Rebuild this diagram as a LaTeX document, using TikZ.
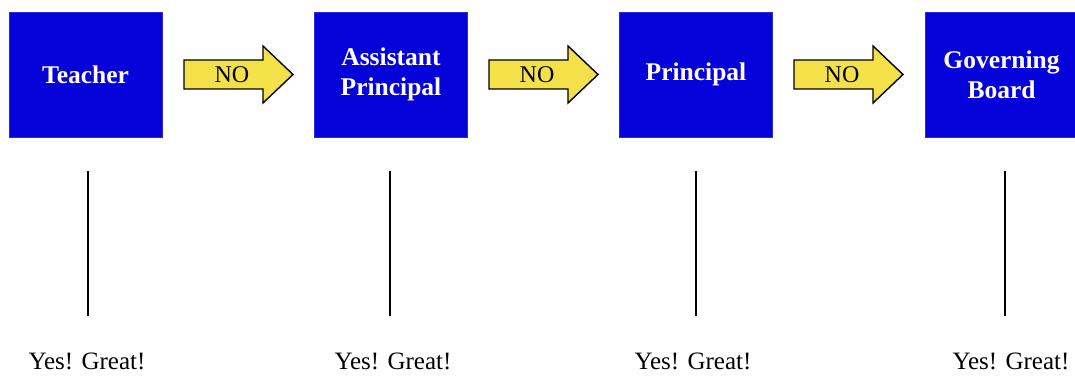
\documentclass[tikz,border=0pt]{standalone}
\usepackage{fontspec}
\setmainfont{Liberation Serif}
\usetikzlibrary{positioning}

\definecolor{boxblue}{RGB}{6,2,218}
\definecolor{noyellow}{RGB}{244,224,72}

\begin{document}
\begin{tikzpicture}[x=1pt,y=1pt,
	person/.style={rectangle,fill=boxblue,draw=boxblue!85!white,line width=0.6pt,
		minimum width=153pt,minimum height=125pt,inner sep=0pt,
		text=white,align=center,font=\fontsize{25.5}{30}\selectfont\bfseries},
	noarrow/.style={draw=black,fill=noyellow,line width=1.4pt,line join=miter},
	notext/.style={inner sep=0pt,font=\fontsize{24}{28}\selectfont},
	yesline/.style={draw=black,line width=1.3pt},
	yestext/.style={inner sep=0pt,anchor=base,text depth=0pt,
		font=\fontsize{25}{30}\selectfont},]
	\useasboundingbox (0,0) rectangle (1075,375);
	% the chain of people
	\node [person] (t) at (85.5,300.5) {Teacher};
	\node [person] (ap) at (391,300.5) {Assistant\\Principal};
	\node [person] (p) at (696,300.5) {Principal};
	\node [person] (gb) at (1001.5,300.5) {Governing\\Board};
	% NO arrows
	\coordinate (a1) at (184,300.5);
	\coordinate (a2) at (489,300.5);
	\coordinate (a3) at (794,300.5);
	\draw [noarrow,shift={(a1)}] (0,-14.5) -- (79,-14.5) -- (79,-28.5) -- (109,0)
		-- (79,28.5) -- (79,14.5) -- (0,14.5) -- cycle;
	\draw [noarrow,shift={(a2)}] (0,-14.5) -- (79,-14.5) -- (79,-28.5) -- (109,0)
		-- (79,28.5) -- (79,14.5) -- (0,14.5) -- cycle;
	\draw [noarrow,shift={(a3)}] (0,-14.5) -- (79,-14.5) -- (79,-28.5) -- (109,0)
		-- (79,28.5) -- (79,14.5) -- (0,14.5) -- cycle;
	\node [notext] (no1) at (232,300) {NO};
	\node [notext] (no2) at (537,300) {NO};
	\node [notext] (no3) at (842,300) {NO};
	% yes answers
	\node [yestext] (y1) at (87,6) {Yes! Great!};
	\node [yestext] (y2) at (393,6) {Yes! Great!};
	\node [yestext] (y3) at (693,6) {Yes! Great!};
	\node [yestext] (y4) at (1011,6) {Yes! Great!};
	\coordinate (l1) at (88,204);
	\coordinate (l2) at (390,204);
	\coordinate (l3) at (696,204);
	\coordinate (l4) at (1005,204);
	\draw [yesline] (l1) -- ++(0,-145);
	\draw [yesline] (l2) -- ++(0,-145);
	\draw [yesline] (l3) -- ++(0,-145);
	\draw [yesline] (l4) -- ++(0,-145);
\end{tikzpicture}
\end{document}
